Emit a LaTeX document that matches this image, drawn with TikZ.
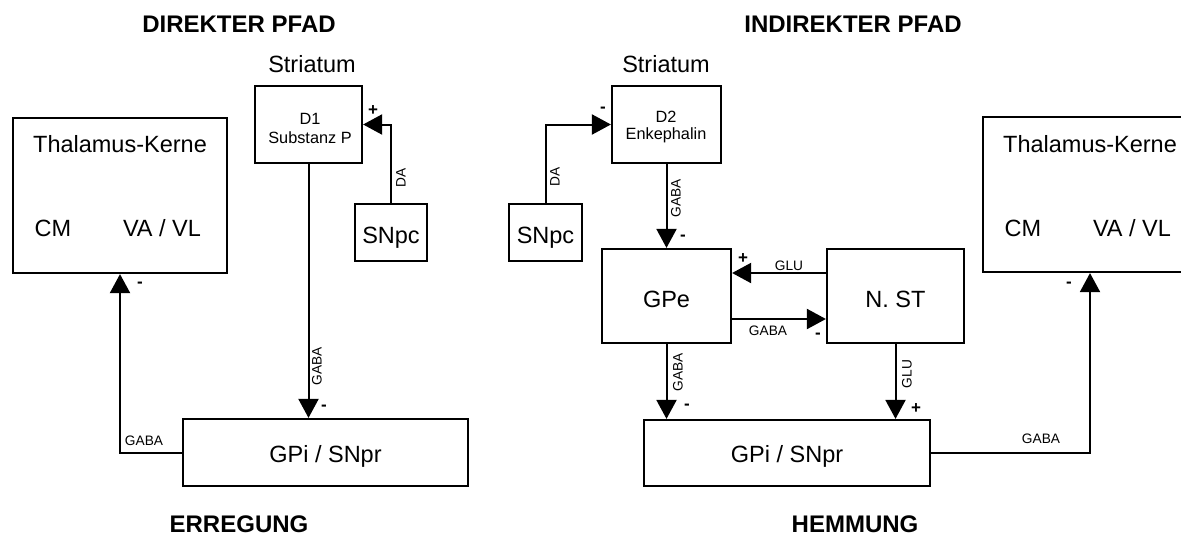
\documentclass[tikz,border=0pt]{standalone}
\usepackage{fontspec}
\setmainfont{Liberation Sans}
\usetikzlibrary{arrows.meta,calc}
\begin{document}
\begin{tikzpicture}[x=0.5pt,y=-0.5pt,
  box/.style={draw, line width=1.1pt, inner sep=0pt},
  sz/.style 2 args={minimum width=#1*0.5pt, minimum height=#2*0.5pt},
  arr/.style={line width=1pt, -{Triangle[length=9.5pt,width=10pt]}},
  big/.style={inner sep=0pt, font=\fontsize{11.75}{14}\selectfont},
  sm/.style={inner sep=0pt, font=\fontsize{8.15}{9}\selectfont},
  tiny/.style={inner sep=0pt, font=\fontsize{6.85}{8}\selectfont},
  sign/.style={inner sep=0pt, font=\bfseries\fontsize{8.5}{9}\selectfont},
  ttl/.style={inner sep=0pt, font=\bfseries\fontsize{12}{14}\selectfont}]
\clip (0,0) rectangle (1181,535);
\fill[white] (0,0) rectangle (1181,535);
% titles
\node[ttl,anchor=base] (t1) at (239,33) {DIREKTER PFAD};
\node[ttl,anchor=base] (t2) at (853,33) {INDIREKTER PFAD};
\node[ttl,anchor=base] (t3) at (239,532) {ERREGUNG};
\node[ttl,anchor=base] (t4) at (855,532) {HEMMUNG};
% boxes
\node[box,sz={214}{155}] (thalL) at (120,195.5) {};
\node[box,sz={107}{77}] (d1) at (308.5,124.5) {};
\node[box,sz={72}{57}] (snpcL) at (391,232.5) {};
\node[box,sz={285}{67}] (gpiL) at (325.5,452.5) {};
\node[box,sz={109}{77}] (d2) at (666.5,124.5) {};
\node[box,sz={73}{57}] (snpcR) at (545.5,232.5) {};
\node[box,sz={129}{94}] (gpe) at (666.5,296) {};
\node[box,sz={137}{94}] (nst) at (895.5,296) {};
\node[box,sz={286}{66}] (gpiR) at (787,453) {};
\node[box,sz={214}{155}] (thalR) at (1090,194.5) {};
% box texts
\node[big,anchor=base] (thLt) at (120,152) {Thalamus-Kerne};
\node[big,anchor=base] (thLcm) at (53,236) {CM};
\node[big,anchor=base] (thLva) at (162,236) {VA / VL};
\node[big,anchor=base] (thRt) at (1090,152) {Thalamus-Kerne};
\node[big,anchor=base] (thRcm) at (1023,236) {CM};
\node[big,anchor=base] (thRva) at (1132,236) {VA / VL};
\node[big,anchor=base] (strL) at (312,73) {Striatum};
\node[big,anchor=base] (strR) at (666,73) {Striatum};
\node[sm,anchor=base] (d1a) at (310,125) {D1};
\node[sm,anchor=base] (d1b) at (310,143) {Substanz P};
\node[sm,anchor=base] (d2a) at (666,122) {D2};
\node[sm,anchor=base] (d2b) at (666,140) {Enkephalin};
\node[big,anchor=base] (snLt) at (391,243) {SNpc};
\node[big,anchor=base] (snRt) at (545.5,243) {SNpc};
\node[big,anchor=base] (gpet) at (666.5,307) {GPe};
\node[big,anchor=base] (nstt) at (895.5,307) {N. ST};
\node[big,anchor=base] (gpiLt) at (325.5,462) {GPi / SNpr};
\node[big,anchor=base] (gpiRt) at (787,462) {GPi / SNpr};
% connectors
\draw[arr] (snpcL.north) |- (d1.east);
\draw[arr] (snpcR.north) |- (d2.west);
\draw[arr] (d1.south) -- (d1.south |- gpiL.north);
\draw[arr] (d2.south) -- (d2.south |- gpe.north);
\draw[arr] ([yshift=11.5pt]nst.west) -- ([yshift=11.5pt]gpe.east);
\draw[arr] ([yshift=-11.5pt]gpe.east) -- ([yshift=-11.5pt]nst.west);
\draw[arr] (gpe.south) -- (gpe.south |- gpiR.north);
\draw[arr] (nst.south) -- (nst.south |- gpiR.north);
\draw[arr] (gpiL.west) -| (thalL.south);
\draw[arr] (gpiR.east) -| (thalR.south);
% connector labels
\node[tiny,rotate=90] (laDAL) at (401,178) {DA};
\node[tiny,rotate=90] (laDAR) at (555,177) {DA};
\node[tiny,rotate=90] (laG1) at (317,366) {GABA};
\node[tiny,rotate=90] (laG2) at (676,198) {GABA};
\node[tiny,rotate=90] (laG3) at (678,372) {GABA};
\node[tiny,rotate=90] (laGl1) at (907,374) {GLU};
\node[tiny,anchor=base] (laGl2) at (789,270) {GLU};
\node[tiny,anchor=base] (laG4) at (768,335) {GABA};
\node[tiny,anchor=base] (laG5) at (144,445) {GABA};
\node[tiny,anchor=base] (laG6) at (1041,443) {GABA};
% signs
\node[sign] (s1) at (373,111) {+};
\node[sign] (s2) at (603,110) {-};
\node[sign] (s3) at (683,238) {-};
\node[sign] (s4) at (743,259) {+};
\node[sign] (s5) at (818,336) {-};
\node[sign] (s6) at (687,407) {-};
\node[sign] (s7) at (916,409) {+};
\node[sign] (s8) at (324,408) {-};
\node[sign] (s9) at (140,285) {-};
\node[sign] (s10) at (1069,285) {-};
\end{tikzpicture}
\end{document}
